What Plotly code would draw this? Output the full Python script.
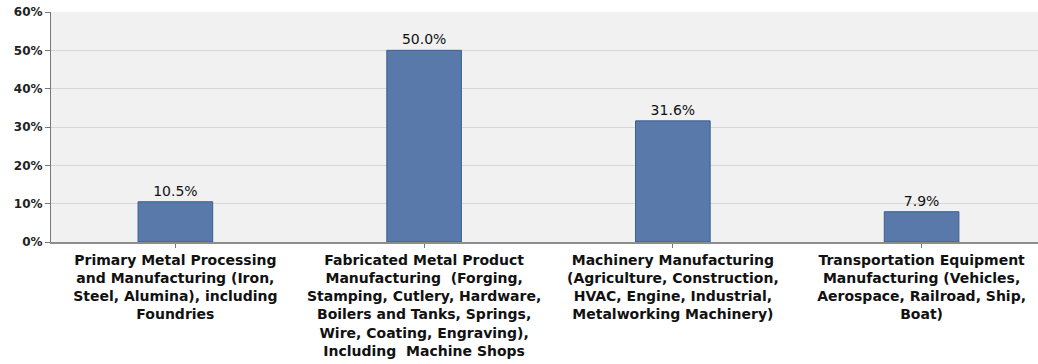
import plotly.graph_objects as go

# Share of respondents by metals sub-industry
categories = [
    "Primary Metal Processing<br>and Manufacturing (Iron,<br>Steel, Alumina), including<br>Foundries",
    "Fabricated Metal Product<br>Manufacturing  (Forging,<br>Stamping, Cutlery, Hardware,<br>Boilers and Tanks, Springs,<br>Wire, Coating, Engraving),<br>Including  Machine Shops",
    "Machinery Manufacturing<br>(Agriculture, Construction,<br>HVAC, Engine, Industrial,<br>Metalworking Machinery)",
    "Transportation Equipment<br>Manufacturing (Vehicles,<br>Aerospace, Railroad, Ship,<br>Boat)",
]
shares = [10.5, 50.0, 31.6, 7.9]
y_ticks = [0, 10, 20, 30, 40, 50, 60]
y_tick_labels = ["0%", "10%", "20%", "30%", "40%", "50%", "60%"]

FONT = "DejaVu Sans, Verdana, sans-serif"

fig = go.Figure()
fig.add_trace(go.Bar(
    x=categories,
    y=shares,
    width=0.3,
    marker=dict(color="#5879aa", line=dict(color="#3a5f90", width=1)),
    text=[f"{v:.1f}%" for v in shares],
    textposition="outside",
    textfont=dict(family=FONT, size=14, color="#111111"),
    cliponaxis=False,
))

fig.update_layout(
    width=1038,
    height=364,
    margin=dict(l=51, r=0, t=12, b=122),
    paper_bgcolor="#ffffff",
    plot_bgcolor="#f1f1f1",
    showlegend=False,
)
fig.update_xaxes(
    categoryorder="array",
    categoryarray=categories,
    range=[-0.5, 3.468],
    showline=True,
    linecolor="#8c8c8c",
    linewidth=2,
    ticks="outside",
    ticklen=4,
    tickcolor="#777777",
    tickfont=dict(family=FONT, size=14, color="#111111", weight="bold"),
    tickangle=0,
    showgrid=False,
)
fig.update_yaxes(
    range=[0, 60],
    tickvals=y_ticks,
    ticktext=y_tick_labels,
    showline=True,
    linecolor="#777777",
    linewidth=1,
    ticks="outside",
    ticklen=5,
    tickcolor="#777777",
    tickfont=dict(family=FONT, size=12, color="#222222", weight="bold"),
    showgrid=True,
    gridcolor="#d6d6d6",
    gridwidth=1,
    zeroline=False,
)

fig.write_html("out.html")
